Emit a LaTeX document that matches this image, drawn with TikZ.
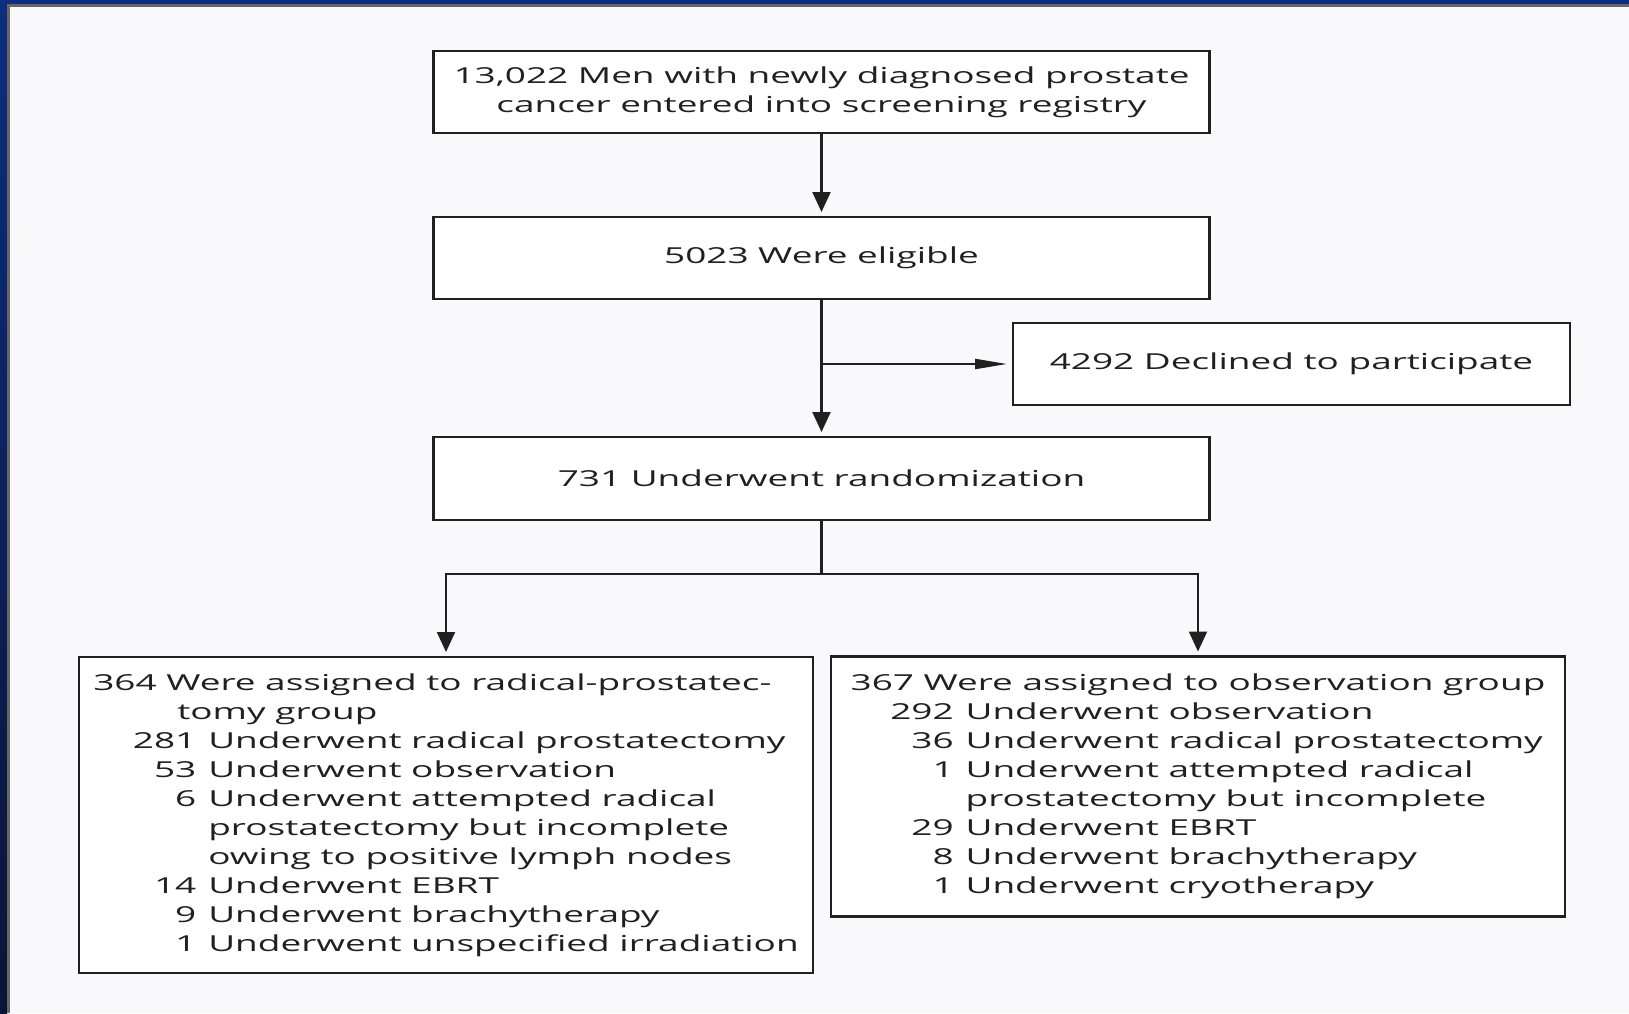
\documentclass[tikz,border=0pt]{standalone}
\usepackage{fontspec}
\setmainfont[FakeStretch=1.68]{Open Sans}
\usepackage{tikz}
\usetikzlibrary{arrows.meta}
\definecolor{pagebg}{HTML}{F9F9FB}
\definecolor{navy}{HTML}{0B2E80}
\definecolor{navydark}{HTML}{0A1436}
\definecolor{ink}{HTML}{202020}
\tikzset{>/.tip={Triangle[length=10pt,width=9pt]},
  stage/.style={draw=ink, line width=1.2pt, fill=white, text=ink, outer sep=0pt,
    inner sep=0pt, align=center, font=\fontsize{11}{14.5}\selectfont},
  group/.style={stage, align=left},
  flow/.style={draw=ink, line width=1.1pt}}
\newcommand{\cnt}[1]{\makebox[51.5pt][r]{#1}\hspace{6pt}}
\newcommand{\wrap}{\hspace*{57.5pt}}

\begin{document}
\begin{tikzpicture}[x=0.5pt, y=-0.5pt]
\useasboundingbox (0,0) rectangle (1629,1013);
\fill[pagebg] (0,0) rectangle (1629,1013);
\fill[navy] (0,0) rectangle (1629,4);
\fill[black!60] (7,4) rectangle (1629,7);
\shade[top color=navy, bottom color=navydark] (0,0) rectangle (7,1013);
\fill[black!60] (7,4) rectangle (10,1013);

\node[stage, minimum width=388pt, minimum height=41pt] (reg) at (821.5,92)
  {13,022 Men with newly diagnosed prostate\\cancer entered into screening registry};
\node[stage, minimum width=388pt, minimum height=41pt] (elig) at (821.5,258)
  {5023 Were eligible};
\node[stage, minimum width=278.5pt, minimum height=41pt] (decl) at (1291.5,364)
  {4292 Declined to participate};
\node[stage, minimum width=388pt, minimum height=41.5pt] (rand) at (821.5,478.5)
  {731 Underwent randomization};
\node[group, minimum width=367pt, minimum height=158pt] (surg) at (446,815)
  {364 Were assigned to radical-prostatec-\\
   \hspace*{42pt}tomy group\\
   \cnt{281}Underwent radical prostatectomy\\
   \cnt{53}Underwent observation\\
   \cnt{6}Underwent attempted radical\\
   \wrap prostatectomy but incomplete\\
   \wrap owing to positive lymph nodes\\
   \cnt{14}Underwent EBRT\\
   \cnt{9}Underwent brachytherapy\\
   \cnt{1}Underwent unspecified irradiation};
\node[group, minimum width=367pt, minimum height=130pt] (obs) at (1198,786.5)
  {367 Were assigned to observation group\\
   \cnt{292}Underwent observation\\
   \cnt{36}Underwent radical prostatectomy\\
   \cnt{1}Underwent attempted radical\\
   \wrap prostatectomy but incomplete\\
   \cnt{29}Underwent EBRT\\
   \cnt{8}Underwent brachytherapy\\
   \cnt{1}Underwent cryotherapy};

\coordinate (br) at (elig.south |- decl.west);
\coordinate (split) at (821.5,574);
\draw[flow, ->, shorten >=2.5pt] (reg) -- (elig);
\draw[flow, ->, shorten >=2.5pt] (elig) -- (rand);
\draw[flow, -{Triangle[length=16pt,width=5pt]}, shorten >=3pt] (br) -- (decl);
\draw[flow] (rand) -- (split);
\draw[flow, ->, shorten >=2.5pt] (split) -| (surg);
\draw[flow, ->, shorten >=2.5pt] (split) -| (obs);
\end{tikzpicture}
\end{document}
